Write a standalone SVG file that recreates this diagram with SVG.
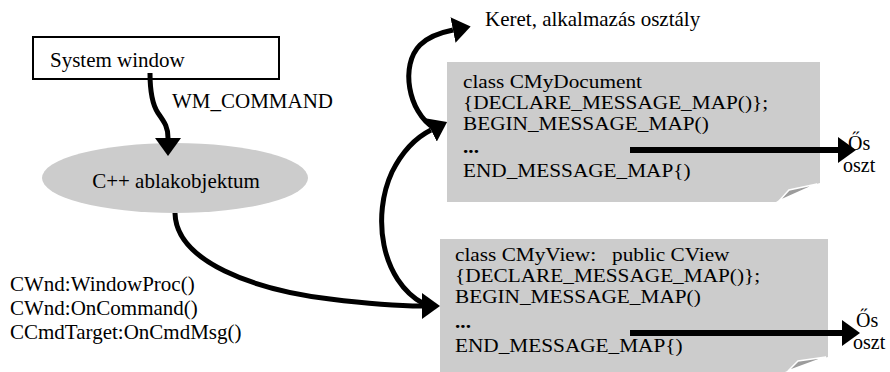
<svg xmlns="http://www.w3.org/2000/svg" width="890" height="372" viewBox="0 0 890 372" font-family="'Liberation Serif', 'DejaVu Serif', serif">
<style>
.t{font-size:21px;font-family:"Liberation Serif","DejaVu Serif",serif}
.b{font-size:19px;font-family:"Liberation Serif","DejaVu Serif",serif}
.o{font-size:20px;font-family:"Liberation Serif","DejaVu Serif",serif}
.dots{font-weight:bold}
.conn{fill:none;stroke:#000;stroke-width:5}
.bar{fill:none;stroke:#000;stroke-width:6}
.note{fill:#cccccc}
.fold{fill:#9c9c9c;stroke:#fff;stroke-width:1.5}
</style>
<defs>
<marker id="ah" viewBox="0 0 18 26" markerWidth="18" markerHeight="26" refX="0" refY="13" orient="auto" markerUnits="userSpaceOnUse">
<path d="M0,0 L18,13 L0,26 Z" fill="#000"/>
</marker>
</defs>
<rect width="890" height="372" fill="#fff"/>

<g id="system-window">
<rect x="33" y="37" width="246" height="42" fill="#fff" stroke="#000" stroke-width="2"/>
<text class="t" x="50" y="67">System window</text>
</g>

<g id="ablakobjektum">
<ellipse cx="175" cy="178" rx="133" ry="35" fill="#cccccc"/>
<text class="t" x="176" y="188" text-anchor="middle">C++ ablakobjektum</text>
</g>

<g id="call-chain">
<text class="t" x="10" y="291">CWnd:WindowProc()</text>
<text class="t" x="10" y="315">CWnd:OnCommand()</text>
<text class="t" x="10" y="339">CCmdTarget:OnCmdMsg()</text>
</g>

<g id="keret">
<text class="t" x="485" y="26">Keret, alkalmazás osztály</text>
</g>

<g id="cmydocument">
<path class="note" d="M447,62 H820 V183 Q797,188 776,202 H447 Z"/>
<polygon class="fold" points="779,201 789,190 817,184"/>
<g transform="translate(463,0) scale(1.12,1)">
<text class="b" x="0" y="88">class CMyDocument</text>
<text class="b" x="0" y="109">{DECLARE_MESSAGE_MAP()};</text>
<text class="b" x="0" y="130">BEGIN_MESSAGE_MAP()</text>
<text class="b dots" x="0" y="153">...</text>
<text class="b" x="0" y="177">END_MESSAGE_MAP{)</text>
</g>
</g>

<g id="cmyview">
<path class="note" d="M440,239 H828 V357 Q806,362 785,372 H440 Z"/>
<polygon class="fold" points="788,371 798,361 826,357"/>
<g transform="translate(455,0) scale(1.12,1)">
<text class="b" x="0" y="261" xml:space="preserve">class CMyView:   public CView</text>
<text class="b" x="0" y="282">{DECLARE_MESSAGE_MAP()};</text>
<text class="b" x="0" y="303">BEGIN_MESSAGE_MAP()</text>
<text class="b dots" x="0" y="328">...</text>
<text class="b" x="0" y="352">END_MESSAGE_MAP{)</text>
</g>
</g>

<g id="os-oszt-1">
<text class="o" x="848" y="150">Ős</text>
<text class="o" x="843" y="172">oszt</text>
</g>

<g id="os-oszt-2">
<text class="o" x="856" y="327">Ős</text>
<text class="o" x="853" y="349">oszt</text>
</g>

<g id="connectors">
<text class="t" x="172" y="108">WM_COMMAND</text>
<path class="conn" marker-end="url(#ah)" d="M150,73 C150,92 152,104 158,113 C165,123 168,127 168,138"/>
<path class="conn" marker-end="url(#ah)" d="M175,213 C176,262 255,290 330,299 C370,304 400,306 422,306"/>
<path class="conn" marker-end="url(#ah)" d="M424,304 C380,280 372,215 392,172 C402,152 415,138 431,130"/>
<path class="conn" marker-end="url(#ah)" d="M434,128 C408,112 400,65 420,45 C428,37 438,33 453,30"/>
<path class="bar" marker-end="url(#ah)" d="M630,150 H838"/>
<path class="bar" marker-end="url(#ah)" d="M630,333 H842"/>
</g>
</svg>
